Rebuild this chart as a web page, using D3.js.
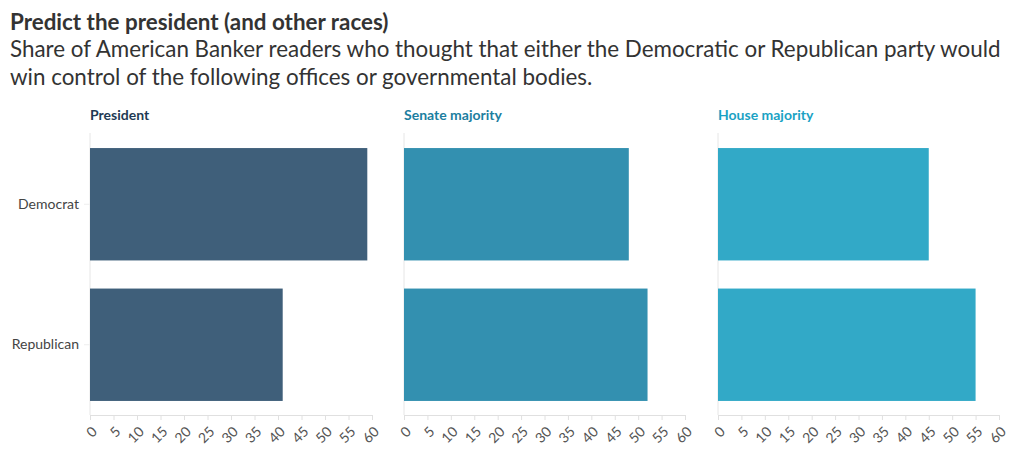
<!DOCTYPE html>
<html><head><meta charset="utf-8">
<script src="https://cdnjs.cloudflare.com/ajax/libs/d3/7.8.5/d3.min.js"></script>
<style>
body{margin:0;background:#fff;font-family:Lato,"Open Sans",sans-serif;}
</style></head>
<body><svg id="c" width="1020" height="460"></svg>
<script>
const categories = ["Democrat", "Republican"];
const panels = ["President", "Senate majority", "House majority"];
const presidentValues = [59, 41];
const senateValues = [48, 52];
const houseValues = [45, 55];
const xTicks = [0,5,10,15,20,25,30,35,40,45,50,55,60];

const seriesList = [presidentValues, senateValues, houseValues];
const barColors = ["#3f5f7a", "#3390b0", "#32a9c7"];
const titleColors = ["#1e3a54", "#1b7ea0", "#1aa2c4"];
const panelX = [[90, 372], [404, 685], [718, 999]];

const svg = d3.select("#c");
svg.append("text").attr("x", 10).attr("y", 30).attr("font-size", 22.4).attr("font-weight", 700)
  .attr("fill", "#333").text("Predict the president (and other races)");
svg.append("text").attr("x", 10).attr("y", 57).attr("font-size", 22.4).attr("fill", "#333")
  .text("Share of American Banker readers who thought that either the Democratic or Republican party would");
svg.append("text").attr("x", 10).attr("y", 85).attr("font-size", 22.4).attr("fill", "#333")
  .text("win control of the following offices or governmental bodies.");

const y = d3.scaleBand().domain(categories).range([134, 415]).paddingInner(0.2).paddingOuter(0.1);

panels.forEach((p, i) => {
  const x = d3.scaleLinear().domain([0, 60]).range(panelX[i]);
  const g = svg.append("g");
  g.append("text").attr("x", panelX[i][0]).attr("y", 120).attr("font-size", 14).attr("font-weight", 700)
    .attr("fill", titleColors[i]).text(p);
  g.append("line").attr("x1", x(0)).attr("x2", x(0)).attr("y1", 133).attr("y2", 415).attr("stroke", "#e6e6e6");
  const ax = g.append("g").attr("transform", "translate(0,415)")
    .call(d3.axisBottom(x).tickValues(xTicks).tickSize(5).tickFormat(d3.format("d")));
  ax.select(".domain").attr("stroke", "#e0e0e0");
  ax.selectAll(".tick line").attr("stroke", "#e0e0e0");
  ax.selectAll(".tick text").attr("font-family", "Lato").attr("font-size", 14).attr("fill", "#555")
    .attr("text-anchor", "end").attr("dy", "0.35em")
    .attr("transform", "translate(4,14) rotate(-45)").attr("y", 0).attr("x", 0);
  g.selectAll("rect.bar").data(categories).enter().append("rect").attr("class", "bar")
    .attr("x", x(0)).attr("y", d => y(d)).attr("height", y.bandwidth())
    .attr("width", (d, j) => x(seriesList[i][j]) - x(0)).attr("fill", barColors[i]);
  if (i === 0) {
    const ya = g.append("g").attr("transform", `translate(${x(0)},0)`)
      .call(d3.axisLeft(y).tickSize(6).tickPadding(5));
    ya.select(".domain").remove();
    ya.selectAll(".tick line").attr("stroke", "#eeeeee");
    ya.selectAll("text").attr("font-family", "Lato").attr("font-size", 14).attr("fill", "#444");
  }
});
</script></body></html>
